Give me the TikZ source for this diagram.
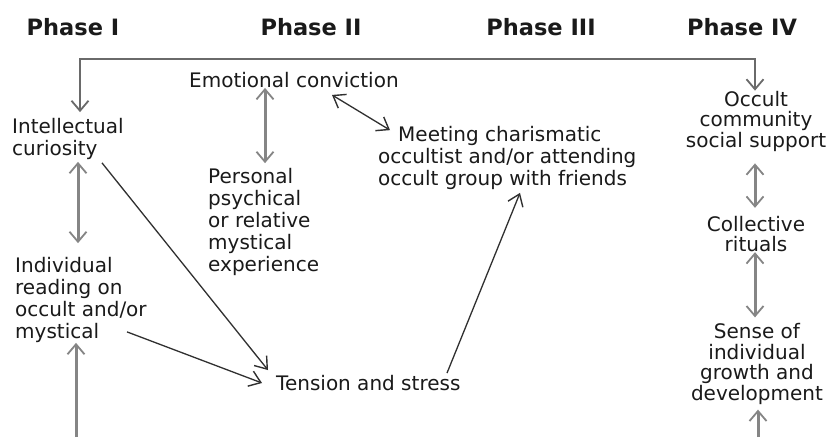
\documentclass[tikz,border=0pt]{standalone}
\usepackage{fontspec}
\setmainfont{DejaVu Sans}
\usetikzlibrary{arrows.meta}
\definecolor{txt}{HTML}{1A1A1A}
\definecolor{vgray}{HTML}{858585}
\definecolor{lgray}{HTML}{6A6A6A}
\definecolor{dline}{HTML}{303030}
\tikzset{
  lbl/.style={inner sep=0pt, text=txt, font=\fontsize{20}{22}\selectfont, align=left},
  rlbl/.style={inner sep=0pt, text=txt, font=\fontsize{20}{20.5}\selectfont, align=center},
  phase/.style={inner sep=0pt, text=txt, font=\fontsize{22.5}{26}\selectfont\bfseries},
  barb/.tip={Straight Barb[length=10pt,width=17pt,line width=1.8pt]},
  thinbarb/.tip={Straight Barb[length=11pt,width=16pt,line width=1.4pt]},
  vdbl/.style={draw=vgray, line width=3pt, {barb}-{barb}},
  vone/.style={draw=vgray, line width=3pt, -{barb}},
  loopln/.style={draw=lgray, line width=2.4pt, {barb}-{barb}},
  diag/.style={draw=dline, line width=1.3pt, -{thinbarb}},
  diagd/.style={draw=dline, line width=1.3pt, {thinbarb}-{thinbarb}},
}
\begin{document}
\begin{tikzpicture}[x=1pt,y=-1pt]
\useasboundingbox[fill=white] (0,0) rectangle (829,437);
% headings
\node[phase] (p1) at (73,27) {Phase I};
\node[phase] (p2) at (311,27) {Phase II};
\node[phase] (p3) at (541,27) {Phase III};
\node[phase] (p4) at (742,27) {Phase IV};
% labels
\node[lbl, anchor=west] (intel) at (12,139) {Intellectual\\curiosity};
\node[lbl, anchor=west] (indiv) at (15,300) {Individual\\reading on\\occult and/or\\mystical};
\node[lbl, anchor=west] (emo) at (189,80) {Emotional conviction};
\node[lbl, anchor=west] (pers) at (208,222) {Personal\\psychical\\or relative\\mystical\\experience};
\node[lbl, anchor=west] (meet) at (378,158) {\hspace*{20pt}Meeting charismatic\\occultist and/or attending\\occult group with friends};
\node[lbl, anchor=west] (tens) at (276,383) {Tension and stress};
\node[rlbl] (occ) at (756,121) {Occult\\community\\social support};
\node[rlbl] (coll) at (756,234) {Collective\\rituals};
\node[rlbl] (sense) at (757,364) {Sense of\\individual\\growth and\\development};
% free ends
\coordinate (tl) at (80,59);
\coordinate (tr) at (755,59);
\coordinate (bl) at (76,437);
\coordinate (br) at (758,437);
% connectors
\draw[loopln] ([yshift=6pt]intel.north -| tl) -- (tl) -- (tr) -- (occ.north -| tr);
\draw[vdbl] ([xshift=66pt,yshift=-2pt]intel.south west) -- ([xshift=63pt,yshift=14pt]indiv.north west);
\draw[vone] (bl) -- ([xshift=61pt]indiv.south west);
\draw[vdbl] ([xshift=76pt]emo.south west) -- ([xshift=57pt,yshift=5pt]pers.north west);
\draw[diagd] ([xshift=143pt,yshift=-7pt]emo.south west) -- ([xshift=12pt,yshift=-4pt]meet.north west);
\draw[diag] ([xshift=90pt,yshift=-3pt]intel.south west) -- ([xshift=-8pt,yshift=5pt]tens.north west);
\draw[diag] ([xshift=112pt,yshift=11pt]indiv.south west) -- ([xshift=-14pt]tens.west);
\draw[diag] ([xshift=171pt,yshift=2pt]tens.north west) -- ([xshift=142pt,yshift=-3pt]meet.south west);
\draw[vdbl] ([xshift=-1pt,yshift=-12pt]occ.south) -- ([xshift=-1pt,yshift=8pt]coll.north);
\draw[vdbl] ([xshift=-1pt]coll.south) -- ([xshift=-2pt,yshift=6pt]sense.north);
\draw[vone] (br) -- ([xshift=1pt,yshift=-5pt]sense.south);
\end{tikzpicture}
\end{document}
